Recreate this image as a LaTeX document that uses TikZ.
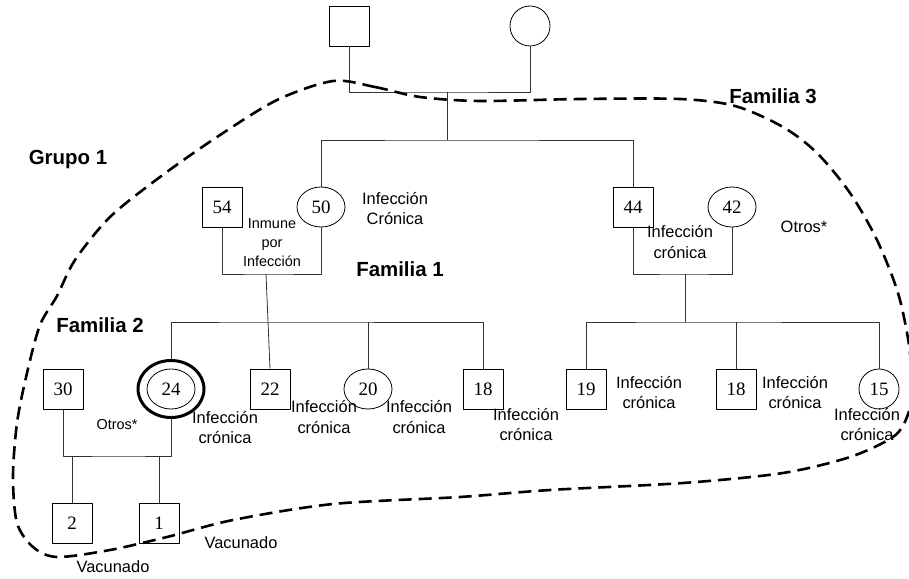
\documentclass[tikz,border=0pt]{standalone}
\usepackage{fontspec}
\setmainfont{Liberation Sans}
\newfontfamily\numfont{Liberation Serif}
\usetikzlibrary{positioning,shapes.geometric}

\tikzset{
  male/.style={draw, minimum size=40bp, inner sep=0pt, font=\numfont\fontsize{19}{19}\selectfont},
  female/.style={draw, ellipse, minimum width=48bp, minimum height=40bp, inner sep=0pt, font=\numfont\fontsize{19}{19}\selectfont},
  femalec/.style={draw, circle, minimum size=40bp, inner sep=0pt, font=\numfont\fontsize{19}{19}\selectfont},
  carrier/.style={draw, ellipse, minimum width=66bp, minimum height=57bp, inner sep=0pt, line width=3bp},
  rel/.style={line width=0.8bp, black!80},
  note/.style={align=center, inner sep=0pt, font=\fontsize{16.5}{20.5}\selectfont},
  smallnote/.style={align=center, inner sep=0pt, font=\fontsize{14.5}{19}\selectfont},
  famlabel/.style={inner sep=0pt, font=\bfseries\fontsize{20.5}{24}\selectfont},
  grupo/.style={line width=2.6bp, dash pattern=on 13bp off 7bp}
}

\begin{document}
\begin{tikzpicture}[x=1bp, y=-1bp, line join=bevel]
  \useasboundingbox (0,0) rectangle (909,579);
  \begin{scope}[line width=0.8bp]
  % Generation I
  \node[male] (gf) at (349,26) {};
  \node[femalec] (gm) at (530,26) {};
  % Generation II
  \node[male] (n54) at (222,207) {54};
  \node[female] (n50) at (321,207) {50};
  \node[male] (n44) at (633,207) {44};
  \node[female] (n42) at (732,207) {42};
  % Generation III
  \node[male] (n30) at (63,389) {30};
  \node[carrier] (n24o) at (171,389) {};
  \node[female] (n24) at (171,389) {24};
  \node[male] (n22) at (270,389) {22};
  \node[female] (n20) at (368,389) {20};
  \node[male] (n18a) at (483,389) {18};
  \node[male] (n19) at (586,389) {19};
  \node[male] (n18b) at (736,389) {18};
  \node[femalec] (n15) at (879,389) {15};
  % Generation IV
  \node[male] (n2) at (72,523) {2};
  \node[male] (n1) at (159,523) {1};
  \end{scope}
  % couple and sibship points
  \coordinate (m0) at (447,92);
  \coordinate (s0) at (447,140);
  \coordinate (m1) at (266,274);
  \coordinate (s1) at (266,322);
  \coordinate (m3) at (685,274);
  \coordinate (s3) at (685,322);
  \coordinate (m2) at (120,456);
  % Edges
  \draw[rel] (gf.south) |- (m0) -| (gm.south);
  \draw[rel] (m0) -- (s0);
  \draw[rel] (n50.north) |- (s0) -| (n44.north);
  \draw[rel] (n54.south) |- (m1) -| (n50.south);
  \draw[rel] (m1) -- (n22.north);
  \draw[rel] (n24o.north) |- (s1) -| (n18a.north);
  \draw[rel] (n20.north) -- (n20.north |- s1);
  \draw[rel] (n44.south) |- (m3) -| (n42.south);
  \draw[rel] (m3) -- (s3);
  \draw[rel] (n19.north) |- (s3) -| (n15.north);
  \draw[rel] (n18b.north) -- (n18b.north |- s3);
  \draw[rel] (n30.south) |- (m2) -| (n24o.south);
  \draw[rel] (n2.north) -- (n2.north |- m2);
  \draw[rel] (n1.north) -- (n1.north |- m2);
  % Labels
  \node[smallnote] (inmune) at (272,243) {Inmune\\por\\Infección};
  \node[note] (t50) at (395,208.5) {Infección\\Crónica};
  \node[note] (t42) at (680,242) {Infección\\crónica};
  \node[note] (otrosd) at (804,227) {Otros*};
  \node[smallnote] (otrosi) at (117,425) {Otros*};
  \node[note] (t24) at (225,427.5) {Infección\\crónica};
  \node[note] (t22) at (324,417) {Infección\\crónica};
  \node[note] (t20) at (419,417) {Infección\\crónica};
  \node[note] (t18a) at (526,424.5) {Infección\\crónica};
  \node[note] (t19) at (649,392.5) {Infección\\crónica};
  \node[note] (t18b) at (795,392.5) {Infección\\crónica};
  \node[note] (t15) at (867,424.5) {Infección\\crónica};
  \node[note] (vac1) at (241,543) {Vacunado};
  \node[note] (vac2) at (113,567) {Vacunado};
  \node[famlabel] (fam1) at (400,269) {Familia 1};
  \node[famlabel] (fam2) at (100,325) {Familia 2};
  \node[famlabel] (fam3) at (773,96) {Familia 3};
  \node[famlabel] (grp1) at (68,159) {Grupo 1};
  % Group boundary
  \draw[grupo] plot[smooth cycle, tension=0.5] coordinates {
    (333,81) (375,87) (420,97) (480,101) (580,99) (680,99) (735,106)
    (783,127) (817,153) (850,193) (877,240) (898,293) (909,345) (912,390)
    (907,417) (893,437) (850,457) (783,473) (683,483) (550,490) (460,497)
    (333,504) (233,520) (167,537) (110,550) (57,557) (33,547) (17,523)
    (13,477) (17,423) (27,373) (40,325) (57,296) (75,260) (110,217)
    (160,177) (217,137) (277,100)};
\end{tikzpicture}
\end{document}
